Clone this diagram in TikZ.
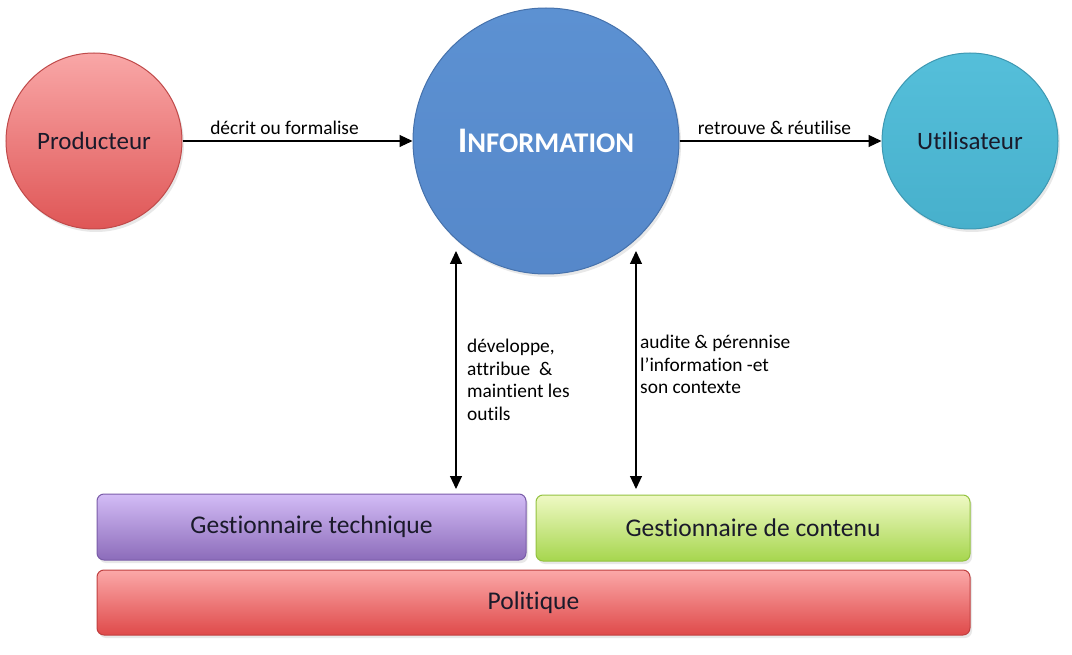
\documentclass[tikz,border=0pt]{standalone}
\usepackage{fontspec}
\setmainfont{Carlito}[Ligatures=NoCommon]
\usetikzlibrary{arrows.meta,shadows}
\definecolor{prodTop}{HTML}{F9A7A7}
\definecolor{prodBot}{HTML}{DF5656}
\definecolor{prodBd}{HTML}{C04A4A}
\definecolor{infoTop}{HTML}{5C91D2}
\definecolor{infoBot}{HTML}{5688CA}
\definecolor{infoBd}{HTML}{4672AC}
\definecolor{utilTop}{HTML}{55BFDA}
\definecolor{utilBot}{HTML}{47B0CC}
\definecolor{utilBd}{HTML}{3E98B2}
\definecolor{techTop}{HTML}{D3BCF6}
\definecolor{techBot}{HTML}{8C6CBA}
\definecolor{techBd}{HTML}{7A5CA8}
\definecolor{contTop}{HTML}{EFF9C4}
\definecolor{contBot}{HTML}{A6D64E}
\definecolor{contBd}{HTML}{93C240}
\definecolor{polTop}{HTML}{FBA8A8}
\definecolor{polBot}{HTML}{DF4A4A}
\definecolor{polBd}{HTML}{C04040}
\definecolor{txt}{HTML}{1A1A2A}
\begin{document}
\begin{tikzpicture}[x=1pt,y=-1pt,
  circ/.style n args={3}{circle, inner sep=0pt, minimum size=#1,
    top color=#2Top, bottom color=#2Bot, draw=#2Bd, line width=1pt,
    drop shadow={opacity=0.18, shadow xshift=2pt, shadow yshift=-3pt},
    font=\fontsize{25}{28}\selectfont, text=txt},
  bar/.style={rounded corners=7pt, inner sep=0pt, line width=1pt,
    top color=#1Top, bottom color=#1Bot, draw=#1Bd,
    drop shadow={opacity=0.18, shadow xshift=2pt, shadow yshift=-3pt},
    font=\fontsize{25.5}{28}\selectfont, text=txt},
  arr/.style={line width=1.1pt, -{Triangle[length=13pt,width=12pt]}},
  dbl/.style={line width=1.1pt, {Triangle[length=13pt,width=12pt]}-{Triangle[length=13pt,width=12pt]}},
  lbl/.style={font=\fontsize{19.4}{22.5}\selectfont, text=black, inner sep=0pt, align=left}
]
\useasboundingbox (0,0) rectangle (1072,655);

\node[circ={176pt}{prod}] (prod) at (94,141) {Producteur};
\node[circ={266pt}{info}, text=white, font=\bfseries] (info) at (546,141)
  {\fontsize{36}{38}\selectfont I\fontsize{28.5}{38}\selectfont NFORMATION};
\node[circ={176pt}{util}] (util) at (970,141) {Utilisateur};

\node[bar=tech, minimum width=429pt, minimum height=66pt] (tech) at (311.5,527) {Gestionnaire technique};
\node[bar=cont, minimum width=434pt, minimum height=66pt] (cont) at (753,528) {Gestionnaire de contenu};
\node[bar=pol, minimum width=873pt, minimum height=65pt] (pol) at (533.5,602.5) {Politique};

\draw[arr] (prod) -- node[lbl, above=6pt, xshift=-13pt] {décrit ou formalise} (info);
\draw[arr] (info) -- node[lbl, above=6pt, xshift=-6pt] {retrouve \& réutilise} (util);

\coordinate (t1) at (456,251);
\coordinate (b1) at (456,489);
\coordinate (t2) at (636,251);
\coordinate (b2) at (636,489);
\draw[dbl] (t1) -- (b1);
\draw[dbl] (t2) -- (b2);

\node[lbl, anchor=north west] (l1) at (467,339) {développe,\\attribue~ \&\\maintient les\\outils};
\node[lbl, anchor=north west] (l2) at (640,335) {audite \& pérennise\\l’information -et\\son contexte};
\end{tikzpicture}
\end{document}
